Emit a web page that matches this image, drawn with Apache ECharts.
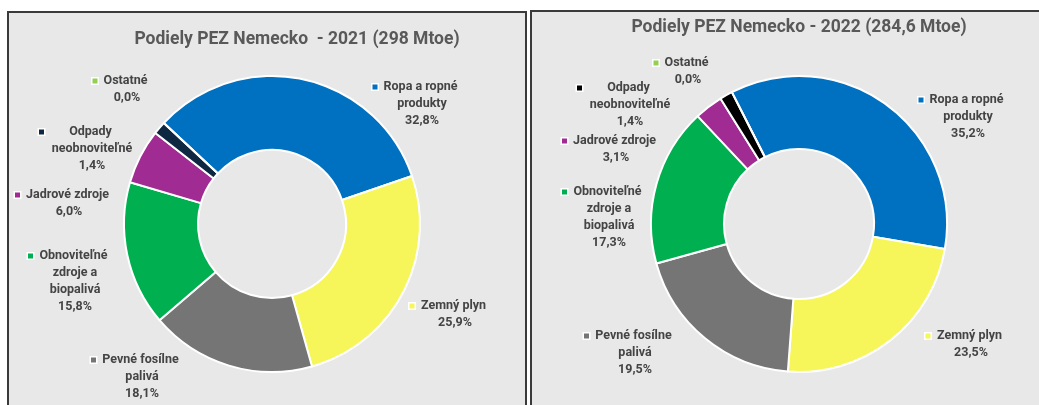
<!DOCTYPE html>
<html>
<head>
<meta charset="utf-8">
<script src="https://cdn.jsdelivr.net/npm/echarts@6/dist/echarts.min.js"></script>
<style>
    html, body { margin: 0; padding: 0; background: #ffffff; }
    #chart { width: 1039px; height: 405px; }
</style>
</head>
<body>
<div id="chart"></div>
<script>
// data - kategorie su rovnake pre oba roky
var categories = ['Ropa a ropné\nprodukty', 'Zemný plyn', 'Pevné fosílne\npalivá', 'Obnoviteľné\nzdroje a\nbiopalivá', 'Jadrové zdroje', 'Odpady\nneobnoviteľné', 'Ostatné'];
var values2021 = [32.8, 25.9, 18.1, 15.8, 6.0, 1.4, 0.0];
var values2022 = [35.2, 23.5, 19.5, 17.3, 3.1, 1.4, 0.0];
var title2021 = 'Podiely PEZ Nemecko  - 2021 (298 Mtoe)';
var title2022 = 'Podiely PEZ Nemecko - 2022 (284,6 Mtoe)';

var colors2021 = ['#0070C0', '#F6F65A', '#757575', '#00B050', '#A02B93', '#0E2841', '#92D050'];
var colors2022 = ['#0070C0', '#F6F65A', '#757575', '#00B050', '#A02B93', '#000000', '#92D050'];

// umiestnenie popiskov (stred textu, prvy riadok) voci stredu prstenca - ako v exceli
var labelPos2021 = [[150, -137], [183, 82], [-130, 136], [-197, 32], [-203, -29], [-180, -92], [-145, -143]];
var labelPos2022 = [[169, -124], [172, 112], [-164, 112], [-190, -32], [-183, -83], [-169, -136], [-111, -161]];

var fontFam = 'Roboto, "Noto Sans", sans-serif';
var textColor = '#444444';
var labelSize = 12.5;
var lineH = 17;
var keyW = 5, gapW = 5;

// sirka najdlhsieho riadku - kvoli centrovaniu ako v exceli
var ctx = document.createElement('canvas').getContext('2d');
ctx.font = 'bold ' + labelSize + 'px ' + fontFam;
function maxLineWidth(lines) {
    var w = 0;
    lines.forEach(function (l) { w = Math.max(w, ctx.measureText(l).width); });
    return Math.ceil(w) + 2;
}

function pct(v) {
    return v.toFixed(1).replace('.', ',') + '%';
}

function buildData(values, colors) {
    var arr = [];
    for (var i = 0; i < categories.length; i++) {
        var lines = categories[i].split('\n').concat([pct(values[i])]);
        var w = maxLineWidth(lines);
        var txt = lines.map(function (l, j) {
            return (j === 0 ? '{k|}{g|}' : '{s|}') + '{t|' + l + '}';
        }).join('\n');
        arr.push({
            name: categories[i],
            value: values[i],
            itemStyle: { color: colors[i] },
            label: {
                formatter: txt,
                rich: {
                    k: { width: keyW, height: keyW, backgroundColor: colors[i], borderColor: '#ffffff', borderWidth: 1.5 },
                    g: { width: gapW },
                    s: { width: keyW + 3 + gapW },
                    t: { width: w, align: 'center', fontSize: labelSize, fontWeight: 'bold', fontFamily: fontFam, color: textColor, lineHeight: lineH }
                }
            }
        });
    }
    return arr;
}

function makeSeries(name, values, colors, center, radius, startAngle, pos) {
    return {
        name: name,
        type: 'pie',
        center: center,
        radius: radius,
        startAngle: startAngle,
        clockwise: true,
        avoidLabelOverlap: false,
        silent: true,
        itemStyle: { borderColor: '#ffffff', borderWidth: 2 },
        label: { show: true, position: 'outside' },
        labelLine: { show: false },
        labelLayout: function (params) {
            var p = pos[params.dataIndex];
            return {
                x: center[0] + p[0] - (keyW + 3 + gapW) / 2,
                y: center[1] + p[1] - lineH / 2,
                align: 'center',
                verticalAlign: 'top'
            };
        },
        data: buildData(values, colors)
    };
}

var myChart = echarts.init(document.getElementById('chart'));

var option = {
    animation: false,
    backgroundColor: '#ffffff',
    graphic: [
        // panely (sede pozadie s ramikom)
        { type: 'rect', z: -10, shape: { x: 8, y: 12, width: 518, height: 410 }, style: { fill: '#E8E8E8', stroke: '#3A3A3A', lineWidth: 2 } },
        { type: 'rect', z: -10, shape: { x: 531, y: 11, width: 520, height: 410 }, style: { fill: '#E8E8E8', stroke: '#3A3A3A', lineWidth: 2 } }
    ],
    title: [
        { text: title2021, left: 292, top: 26, textAlign: 'center', textStyle: { fontSize: 17.5, fontWeight: 'bold', fontFamily: fontFam, color: '#595959' } },
        { text: title2022, left: 794, top: 14, textAlign: 'center', textStyle: { fontSize: 17.5, fontWeight: 'bold', fontFamily: fontFam, color: '#595959' } }
    ],
    series: [
        makeSeries('2021', values2021, colors2021, [272, 224], [74, 148], 137, labelPos2021),
        makeSeries('2022', values2022, colors2022, [799, 224], [75, 148], 117, labelPos2022)
    ]
};

myChart.setOption(option);
</script>
</body>
</html>
